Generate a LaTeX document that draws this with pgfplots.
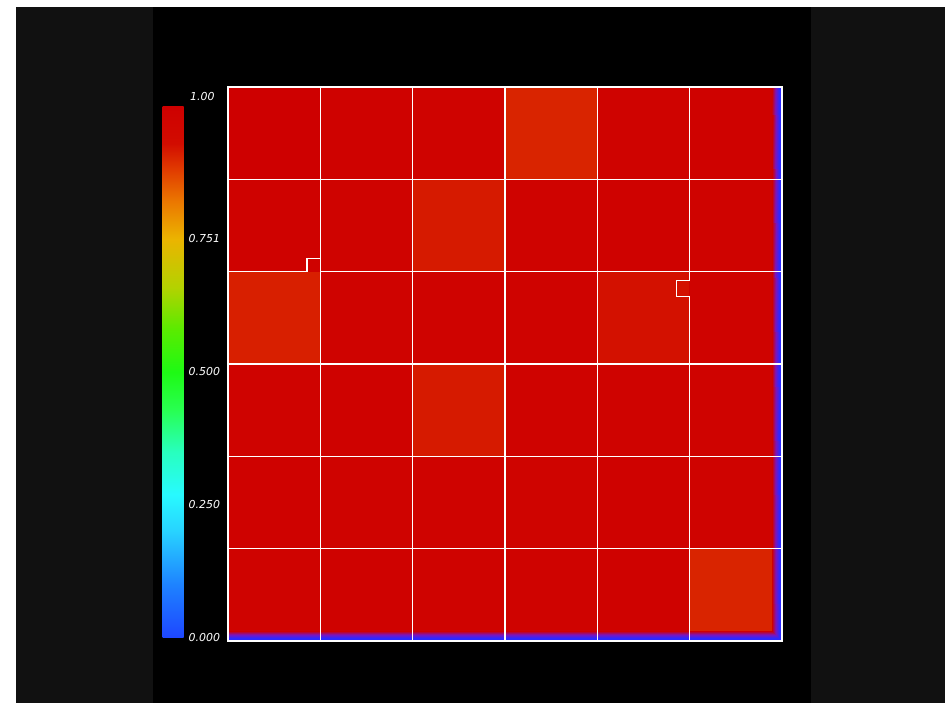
\documentclass[border=0pt]{standalone}
\usepackage{fontspec}
\newfontfamily\lblfont{DejaVu Sans}
\usepackage{pgfplots}
\usetikzlibrary{calc}
\pgfplotsset{compat=1.18}
\definecolor{bggray}{RGB}{17,17,17}
\begin{document}
\begin{tikzpicture}[x=1bp,y=1bp]
\fill[white] (0,0) rectangle (945,703);
\fill[bggray] (16,0) rectangle (945,696);
\fill[black] (153,0) rectangle (811,696);
\begin{axis}[at={(228bp,62bp)}, anchor=south west, scale only axis,
  width=554bp, height=554bp,
  xmin=0, xmax=6, ymin=0, ymax=6,
  xtick=\empty, ytick=\empty,
  axis line style={white, line width=1.3bp},
  axis on top,
  colormap={jetlike}{rgb255(0cm)=(30,70,255) rgb255(1cm)=(30,130,255) rgb255(2cm)=(40,210,255) rgb255(2.7cm)=(40,250,255) rgb255(3.5cm)=(40,255,190) rgb255(4.3cm)=(40,255,80) rgb255(5cm)=(30,250,20) rgb255(5.8cm)=(90,235,0) rgb255(6.6cm)=(180,210,0) rgb255(7.5cm)=(235,180,0) rgb255(8.2cm)=(235,120,0) rgb255(8.8cm)=(225,60,0) rgb255(9.3cm)=(210,12,0) rgb255(10cm)=(206,0,0)},
  point meta min=0, point meta max=1,
  colorbar,
  colorbar/width=21bp,
  colorbar style={at={($(parent axis.south west)+(-74bp,3bp)$)}, anchor=south west,
    scale only axis, height=532bp,
    ytick={0,0.25,0.5,0.751}, yticklabels={0.000,0.250,0.500,0.751},
    yticklabel pos=right, major tick length=0pt,
    axis line style={draw=none},
    yticklabel style={font=\lblfont\itshape\fontsize{11}{13}\selectfont, text=white, anchor=west, inner xsep=0pt, xshift=5bp}},
]
\addplot[matrix plot*, point meta=explicit, mesh/cols=6] table[meta=c] {
x y c
0.5 0.5 0.985
1.5 0.5 0.99
2.5 0.5 0.98
3.5 0.5 0.985
4.5 0.5 0.99
5.5 0.5 0.905
0.5 1.5 0.99
1.5 1.5 0.98
2.5 1.5 0.985
3.5 1.5 0.975
4.5 1.5 0.99
5.5 1.5 0.98
0.5 2.5 0.98
1.5 2.5 0.99
2.5 2.5 0.915
3.5 2.5 0.985
4.5 2.5 0.98
5.5 2.5 0.985
0.5 3.5 0.91
1.5 3.5 0.985
2.5 3.5 0.98
3.5 3.5 0.985
4.5 3.5 0.925
5.5 3.5 0.98
0.5 4.5 0.99
1.5 4.5 0.985
2.5 4.5 0.915
3.5 4.5 0.98
4.5 4.5 0.99
5.5 4.5 0.985
0.5 5.5 1.0
1.5 5.5 0.99
2.5 5.5 0.98
3.5 5.5 0.905
4.5 5.5 0.98
5.5 5.5 0.99
};
\addplot[surf, shader=interp, colormap={rb}{rgb255(0cm)=(40,40,255) rgb255(3cm)=(45,40,255) rgb255(6.5cm)=(125,20,185) rgb255(10cm)=(206,0,0)}, point meta=explicit, mesh/cols=3] table[meta=c] {
x y c
0 0 0
5.89 0 0
6 0 0
0 0.11 1
5.89 0.11 1
6 0.11 0
};
\addplot[surf, shader=interp, colormap={rb}{rgb255(0cm)=(40,40,255) rgb255(3cm)=(45,40,255) rgb255(6.5cm)=(125,20,185) rgb255(10cm)=(206,0,0)}, point meta=explicit, mesh/cols=2] table[meta=c] {
x y c
5.89 0.11 1
6 0.11 0
5.89 6 1
6 6 0
};
\draw[white, line width=1.2bp] (1,0) -- (1,6);
\draw[white, line width=1.2bp] (2,0) -- (2,6);
\draw[white, line width=1.2bp] (3,0) -- (3,6);
\draw[white, line width=1.2bp] (4,0) -- (4,6);
\draw[white, line width=1.2bp] (5,6) -- (5,3.9) -- (4.86,3.9) -- (4.86,3.73) -- (5,3.73) -- (5,0);
\draw[white, line width=1.2bp] (0,1) -- (6,1);
\draw[white, line width=1.2bp] (0,2) -- (6,2);
\draw[white, line width=1.2bp] (0,3) -- (6,3);
\draw[white, line width=1.2bp] (0,5) -- (6,5);
\draw[white, line width=1.2bp] (0,4) -- (0.856,4) -- (0.856,4.14) -- (1,4.14);
\draw[white, line width=1.2bp] (1,4) -- (6,4);
\end{axis}
\node[anchor=west, inner sep=0pt, text=white, font=\lblfont\itshape\fontsize{11}{13}\selectfont] at (190,606) {1.00};
\end{tikzpicture}
\end{document}
